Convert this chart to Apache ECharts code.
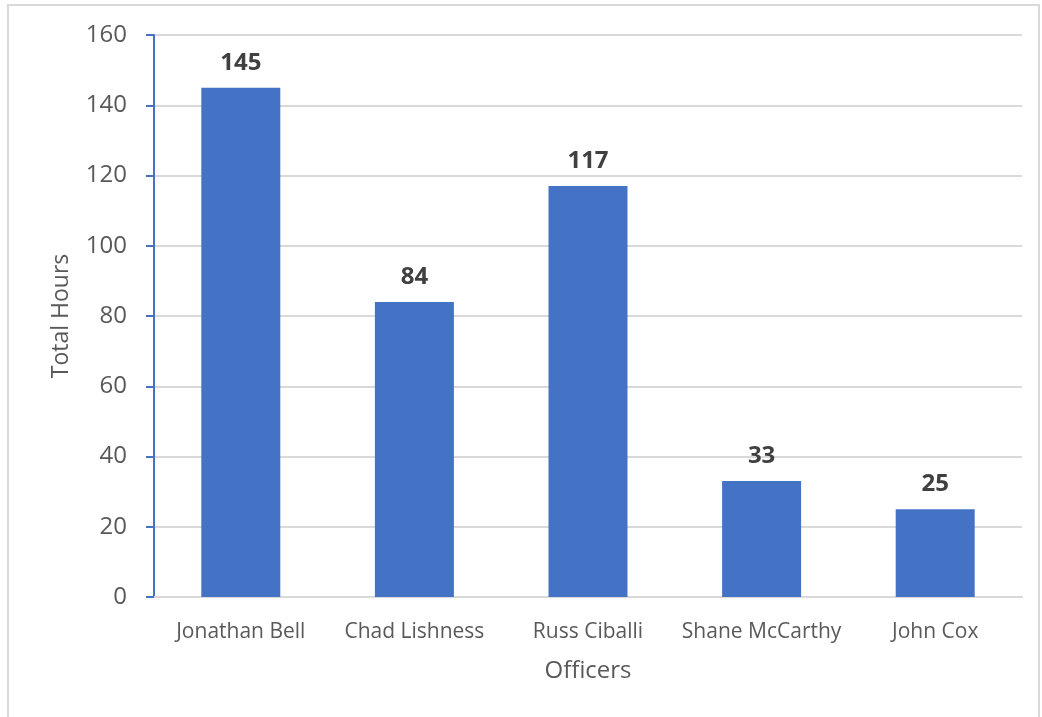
<!DOCTYPE html>
<html>
<head>
<meta charset="utf-8">
<script src="https://cdn.jsdelivr.net/npm/echarts@6/dist/echarts.min.js"></script>
<style>
  html, body { margin: 0; padding: 0; background: #ffffff; }
  #frame { position: absolute; left: 7px; top: 4px; width: 1033px; height: 716px; border: 2px solid #d9d9d9; box-sizing: border-box; border-bottom: none; }
  #chart { position: absolute; left: 0; top: 0; width: 1042px; height: 717px; }
</style>
</head>
<body>
<div id="frame"></div>
<div id="chart"></div>
<script>
// Hours logged per officer
const officers = ['Jonathan Bell', 'Chad Lishness', 'Russ Ciballi', 'Shane McCarthy', 'John Cox'];
const totalHours = [145, 84, 117, 33, 25];
const yTicks = { min: 0, max: 160, interval: 20 };

const chart = echarts.init(document.getElementById('chart'), null, { renderer: 'canvas' });
const font = '"Open Sans", "Noto Sans", sans-serif';

chart.setOption({
  animation: false,
  grid: { left: 154, right: 20, top: 35, bottom: 120 },
  xAxis: {
    type: 'category',
    data: officers,
    name: 'Officers',
    nameLocation: 'middle',
    nameGap: 62,
    nameTextStyle: { color: '#595959', fontSize: 24, fontFamily: font },
    axisLine: { show: true, lineStyle: { color: '#d9d9d9', width: 2 } },
    axisTick: { show: false },
    axisLabel: { color: '#595959', fontSize: 21, fontFamily: font, margin: 25, interval: 0 }
  },
  yAxis: {
    type: 'value',
    min: yTicks.min,
    max: yTicks.max,
    interval: yTicks.interval,
    name: 'Total Hours',
    nameLocation: 'middle',
    nameGap: 81,
    nameTextStyle: { color: '#595959', fontSize: 23, fontFamily: font },
    axisLine: { show: true, lineStyle: { color: '#4472c4', width: 2 } },
    axisTick: { show: true, length: 8, lineStyle: { color: '#4472c4', width: 2 } },
    axisLabel: { color: '#595959', fontSize: 24, fontFamily: font, margin: 27 },
    splitLine: { show: true, lineStyle: { color: '#d9d9d9', width: 2 } }
  },
  series: [{
    type: 'bar',
    data: totalHours,
    barWidth: '45.5%',
    itemStyle: { color: '#4472c4' },
    label: {
      show: true,
      position: 'top',
      distance: 13,
      color: '#404040',
      fontSize: 24,
      fontWeight: 'bold',
      fontFamily: font
    }
  }]
});
</script>
</body>
</html>
